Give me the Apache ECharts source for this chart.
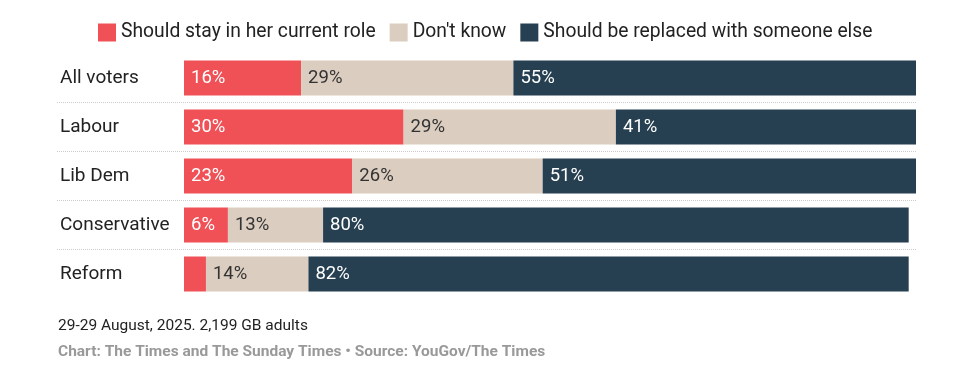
<!DOCTYPE html>
<html><head><meta charset="utf-8">
<script src="https://cdn.jsdelivr.net/npm/echarts@6/dist/echarts.min.js"></script>
<style>html,body{margin:0;padding:0;background:#fff}#c{width:960px;height:383px}</style>
</head><body><div id="c"></div>
<script>
const categories = ['All voters', 'Labour', 'Lib Dem', 'Conservative', 'Reform'];
const stay = [16, 30, 23, 6, 3];
const dontKnow = [29, 29, 26, 13, 14];
const replaced = [55, 41, 51, 80, 82];
const seriesNames = ['Should stay in her current role', "Don't know", 'Should be replaced with someone else'];
const note = '29-29 August, 2025. 2,199 GB adults';
const source = 'Chart: The Times and The Sunday Times \u2022 Source: YouGov/The Times';

const colors = ['#ef5157', '#dbcdbf', '#263f51'];
const labelColors = ['#ffffff', '#333333', '#ffffff'];
const FONT = 'Roboto';

const chart = echarts.init(document.getElementById('c'), null, {renderer: 'canvas'});
function mk(name, data, i) {
  return {
    name: name, type: 'bar', stack: 'all', data: data, barWidth: 35,
    xAxisIndex: 0, yAxisIndex: 0,
    itemStyle: {color: colors[i]},
    label: {
      show: true, position: 'insideLeft', distance: 7,
      color: labelColors[i], fontFamily: FONT, fontSize: 18.5,
      formatter: p => p.value >= 5 ? p.value + '%' : ''
    },
    emphasis: {disabled: true}
  };
}
chart.setOption({
  animation: false,
  textStyle: {fontFamily: FONT},
  legend: {
    left: 93, top: 18, itemWidth: 18, itemHeight: 18, itemGap: 14, itemTextGap: 5,
    icon: 'rect',
    textStyle: {fontFamily: FONT, fontSize: 19.3, color: '#222'},
    data: seriesNames
  },
  title: [
    {text: note, left: 53, top: 313, textStyle: {fontFamily: FONT, fontSize: 15.5, fontWeight: 'normal', color: '#222'}},
    {text: source, left: 53, top: 339, textStyle: {fontFamily: FONT, fontSize: 15.5, fontWeight: 'bold', color: '#999'}}
  ],
  grid: [
    {left: 184, right: 44, top: 53.5, height: 245},
    {left: 57, right: 44, top: 53.5, height: 245}
  ],
  xAxis: [
    {type: 'value', gridIndex: 0, min: 0, max: 100, show: false},
    {type: 'value', gridIndex: 1, min: 0, max: 100, show: false}
  ],
  yAxis: [
    {type: 'category', gridIndex: 0, data: categories, inverse: true,
     axisLine: {show: false}, axisTick: {show: false}, splitLine: {show: false},
     axisLabel: {align: 'left', margin: 124, fontFamily: FONT, fontSize: 19, color: '#222'}},
    {type: 'category', gridIndex: 1, data: categories, inverse: true,
     axisLine: {show: false}, axisTick: {show: false}, axisLabel: {show: false},
     splitLine: {show: true, showMinLine: false, showMaxLine: false,
       lineStyle: {type: [1, 1], color: '#cccccc', width: 1}}}
  ],
  series: [
    mk(seriesNames[0], stay, 0),
    mk(seriesNames[1], dontKnow, 1),
    mk(seriesNames[2], replaced, 2)
  ]
});
</script></body></html>
